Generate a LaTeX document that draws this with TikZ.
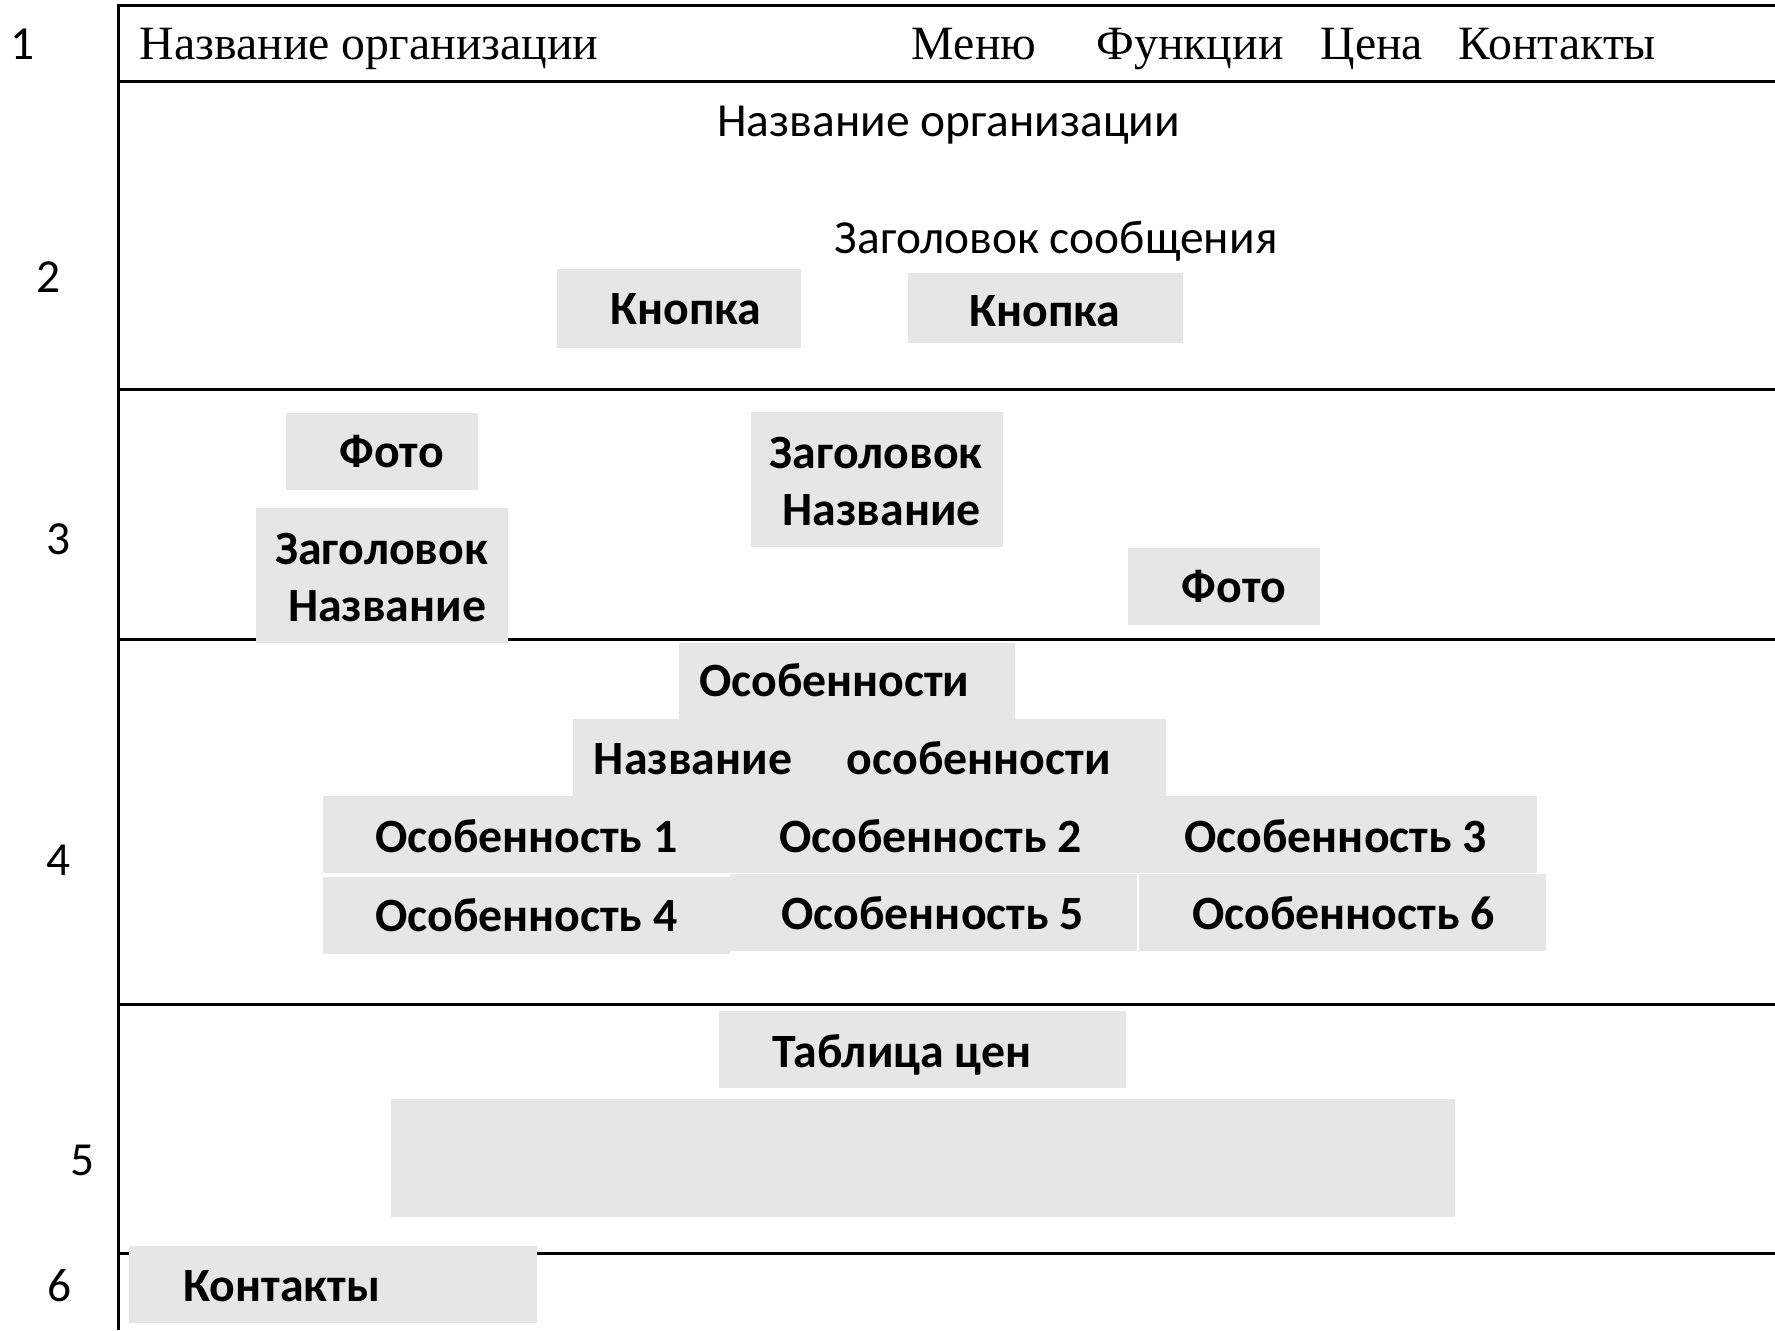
\documentclass[tikz,border=0pt]{standalone}
\usepackage{fontspec}
\setmainfont{Carlito}
\newfontfamily\hdrfont{Liberation Serif}
\definecolor{boxgray}{HTML}{E6E6E6}

\begin{document}
\begin{tikzpicture}[x=0.1132mm,y=-0.1132mm,
		frame/.style={line width=0.8pt},
		gbox/.style={fill=boxgray},
		btxt/.style={anchor=base,inner sep=0pt,font=\bfseries\fontsize{13.6}{16}\selectfont},
		ntxt/.style={anchor=base,inner sep=0pt,font=\fontsize{13.5}{16}\selectfont},
		hdr/.style={anchor=base west,inner sep=0pt,font=\hdrfont\fontsize{13.6}{16}\selectfont}
		]
		\useasboundingbox (0,0) rectangle (1568,1175);
		% frame and section lines
		\draw[frame] (1568,5) -- (105,5) -- (105,1175);
		\foreach \y in {72,344,565,887,1107}
			\draw[frame] (105,\y) -- (1568,\y);
		% row numbers
		\node[ntxt] (n1) at (20,53) {1};
		\node[ntxt] (n2) at (43,258) {2};
		\node[ntxt] (n3) at (52,490) {3};
		\node[ntxt] (n4) at (52,773) {4};
		\node[ntxt] (n5) at (73,1038) {5};
		\node[ntxt] (n6) at (53,1150) {6};
		% 1: header
		\node[hdr] (org) at (123,53) {Название организации};
		\node[hdr] (menu) at (805,53) {Меню};
		\node[hdr] (func) at (968,53) {Функции};
		\node[hdr] (price) at (1166,53) {Цена};
		\node[hdr] (cont) at (1288,53) {Контакты};
		% 2: hero
		\node[ntxt] (orgname) at (838,121) {Название организации};
		\node[ntxt] (msg) at (933,224) {Заголовок сообщения};
		\fill[gbox] (492,238) rectangle (708,307);
		\fill[gbox] (802,241) rectangle (1045,303);
		\node[btxt] (btnA) at (606,287) {Кнопка};
		\node[btxt] (btnB) at (923,288) {Кнопка};
		% 3: about
		\fill[gbox] (253,365) rectangle (422,433);
		\fill[gbox] (663,364) rectangle (886,483);
		\fill[gbox] (226,449) rectangle (449,568);
		\fill[gbox] (996,484) rectangle (1166,552);
		\node[btxt] (photoA) at (346,413) {Фото};
		\node[btxt] (titleA) at (774,414) {Заголовок};
		\node[btxt] (nameA) at (779,464) {Название};
		\node[btxt] (titleB) at (337,499) {Заголовок};
		\node[btxt] (nameB) at (342,549) {Название};
		\node[btxt] (photoB) at (1090,532) {Фото};
		% 4: features
		\fill[gbox] (600,568) rectangle (897,635);
		\fill[gbox] (506,635) rectangle (1030,703);
		\fill[gbox] (285,703) rectangle (643,771);
		\fill[gbox] (643,703) rectangle (1005,771);
		\fill[gbox] (1005,703) rectangle (1358,771);
		\fill[gbox] (285,775) rectangle (645,843);
		\fill[gbox] (645,772) rectangle (1004,840);
		\fill[gbox] (1006,772) rectangle (1366,840);
		\node[btxt] (feat) at (737,615) {Особенности};
		\node[btxt] (featname) at (753,684) {Название\quad\hspace{2pt}особенности};
		\node[btxt] (f1) at (465,753) {Особенность 1};
		\node[btxt] (f2) at (822,753) {Особенность 2};
		\node[btxt] (f3) at (1180,753) {Особенность 3};
		\node[btxt] (f4) at (465,823) {Особенность 4};
		\node[btxt] (f5) at (824,821) {Особенность 5};
		\node[btxt] (f6) at (1187,821) {Особенность 6};
		% 5: prices
		\fill[gbox] (635,893) rectangle (995,961);
		\fill[gbox] (345,971) rectangle (1285,1075);
		\node[btxt] (table) at (797,943) {Таблица цен};
		% 6: contacts
		\fill[gbox] (114,1101) rectangle (474,1169);
		\node[btxt] (contacts) at (249,1150) {Контакты};
	\end{tikzpicture}
\end{document}
